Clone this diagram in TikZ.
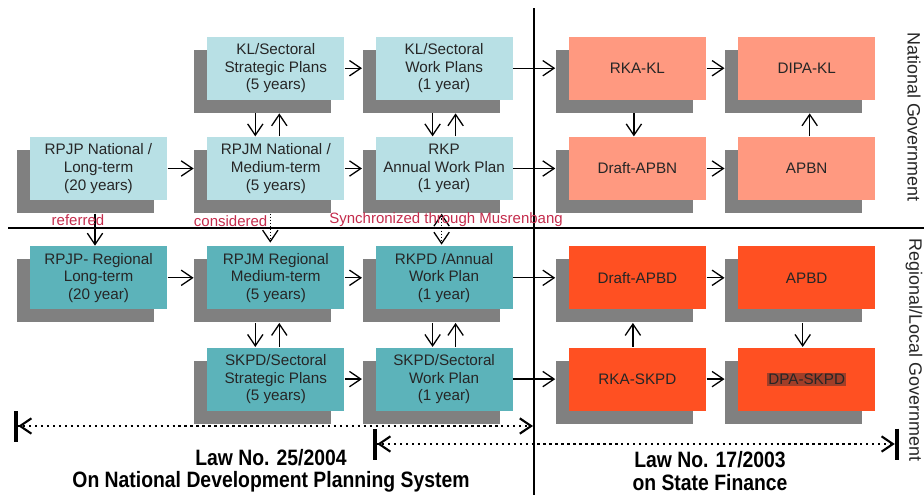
\documentclass[tikz,border=0pt]{standalone}
\usepackage{fontspec}
\setmainfont{Liberation Sans}
\newfontfamily\lawfont[FakeStretch=0.87]{Liberation Sans}
\usepackage{tikz}
\usetikzlibrary{positioning,shadows,calc,arrows.meta}
\definecolor{natplancol}{RGB}{184,224,229}
\definecolor{regplancol}{RGB}{92,179,186}
\definecolor{natfincol}{RGB}{255,153,128}
\definecolor{regfincol}{RGB}{255,80,34}
\definecolor{boxshadow}{RGB}{128,128,128}
\definecolor{notered}{RGB}{196,44,76}
\definecolor{dpamark}{RGB}{160,62,40}

\begin{document}
\begin{tikzpicture}[x=0.03cm, y=-0.03cm, line width=1.1pt,
                    >={Straight Barb[length=0.34cm,width=0.46cm]}]
  \tikzstyle{plan}=[minimum width=4.11cm, minimum height=1.89cm, inner sep=0pt,
     align=center, text=black!85, font=\fontsize{13}{15}\selectfont,
     drop shadow={shadow xshift=-0.39cm, shadow yshift=-0.39cm, fill=boxshadow, opacity=1}]
  \tikzstyle{natplan}=[plan, fill=natplancol]
  \tikzstyle{regplan}=[plan, fill=regplancol]
  \tikzstyle{natfin}=[plan, fill=natfincol]
  \tikzstyle{regfin}=[plan, fill=regfincol]
  \tikzstyle{toshadow}=[shorten >=0.39cm]
  \tikzstyle{note}=[text=notered, inner sep=0pt, font=\fontsize{12.8}{14}\selectfont]
  \tikzstyle{span}=[line width=1.8pt, dash pattern=on 2pt off 3.1pt]
  \tikzstyle{law}=[align=center, font=\lawfont\bfseries\fontsize{19}{19}\selectfont]
  \tikzstyle{side}=[rotate=-90, text=black!85, font=\fontsize{15.3}{17}\selectfont]

  \useasboundingbox (0,0) rectangle (924,495);

  % dividers
  \draw (8,228) -- (924,228);
  \draw (534,8) -- (534,495);

  % national level
  \node[natplan] (rpjpn) at (98.5,168.5) {RPJP National /\\Long-term\\(20 years)};
  \node[natplan] (rpjmn) [right=1.17cm of rpjpn] {RPJM National /\\Medium-term\\(5 years)};
  \node[natplan] (rkp)   [right=0.9cm of rpjmn] {RKP\\Annual Work Plan\\(1 year)};
  \node[natfin]  (dapbn) [right=1.65cm of rkp] {Draft-APBN};
  \node[natfin]  (apbn)  [right=0.93cm of dapbn] {APBN};
  \node[natplan] (klsp)   [above=1.08cm of rpjmn] {KL/Sectoral\\Strategic Plans\\(5 years)};
  \node[natplan] (klwp)   [above=1.08cm of rkp] {KL/Sectoral\\Work Plans\\(1 year)};
  \node[natfin]  (rkakl)  [above=1.08cm of dapbn] {RKA-KL};
  \node[natfin]  (dipakl) [above=1.08cm of apbn] {DIPA-KL};

  % regional level
  \node[regplan] (rpjpr) [below=1.35cm of rpjpn] {RPJP- Regional\\Long-term\\(20 year)};
  \node[regplan] (rpjmr) [below=1.35cm of rpjmn] {RPJM Regional\\Medium-term\\(5 years)};
  \node[regplan] (rkpd)  [below=1.35cm of rkp] {RKPD /Annual\\Work Plan\\(1 year)};
  \node[regfin]  (dapbd) [below=1.35cm of dapbn] {Draft-APBD};
  \node[regfin]  (apbd)  [below=1.35cm of apbn] {APBD};
  \node[regplan] (skpdsp)  [below=1.11cm of rpjmr] {SKPD/Sectoral\\Strategic Plans\\(5 years)};
  \node[regplan] (skpdwp)  [below=1.11cm of rkpd] {SKPD/Sectoral\\Work Plan\\(1 year)};
  \node[regfin]  (rkaskpd) [below=1.11cm of dapbd] {RKA-SKPD};
  \node[regfin]  (dpaskpd) [below=1.11cm of apbd] {\setlength{\fboxsep}{1pt}\colorbox{dpamark}{DPA-SKPD}};

  % flows
  \path[->] (klsp)  edge[toshadow] (klwp)
            (klwp)  edge[toshadow] (rkakl)
            (rkakl) edge[toshadow] (dipakl)
            (rpjpn) edge[toshadow] (rpjmn)
            (rpjmn) edge[toshadow] (rkp)
            (rkp)   edge[toshadow] (dapbn)
            (dapbn) edge[toshadow] (apbn)
            (rpjpr) edge[toshadow] (rpjmr)
            (rpjmr) edge[toshadow] (rkpd)
            (rkpd)  edge[toshadow] (dapbd)
            (dapbd) edge[toshadow] (apbd)
            (skpdsp)  edge[toshadow] (skpdwp)
            (skpdwp)  edge[toshadow] (rkaskpd)
            (rkaskpd) edge[toshadow] (dpaskpd);

  \draw[->] ($(klsp.south)+(-20.5,13)$) -- ($(rpjmn.north)+(-20.5,0)$);
  \draw[->] ($(rpjmn.north)+(3.5,0)$) -- ($(klsp.south)+(3.5,13)$);
  \draw[->] ($(klwp.south)+(-11.5,13)$) -- ($(rkp.north)+(-11.5,0)$);
  \draw[->] ($(rkp.north)+(11.5,0)$) -- ($(klwp.south)+(11.5,13)$);
  \draw[->] ($(rkakl.south)+(-3.5,13)$) -- ($(dapbn.north)+(-3.5,0)$);
  \draw[->] ($(apbn.north)+(3,0)$) -- ($(dipakl.south)+(3,13)$);

  \draw[->] ($(rpjmr.south)+(-20.5,13)$) -- ($(skpdsp.north)+(-20.5,0)$);
  \draw[->] ($(skpdsp.north)+(3.5,0)$) -- ($(rpjmr.south)+(3.5,13)$);
  \draw[->] ($(rkpd.south)+(-11.5,13)$) -- ($(skpdwp.north)+(-11.5,0)$);
  \draw[->] ($(skpdwp.north)+(11.5,0)$) -- ($(rkpd.south)+(11.5,13)$);
  \draw[->] ($(rkaskpd.north)+(-4.5,0)$) -- ($(dapbd.south)+(-4.5,13)$);
  \draw[->] ($(apbd.south)+(-4,13)$) -- ($(dpaskpd.north)+(-4,0)$);

  % national to regional
  \draw[->] ($(rpjpn.south)+(-3.5,13)$) -- ($(rpjpr.north)+(-3.5,0)$)
     node[note, pos=0.19, xshift=-0.51cm] {referred};
  \draw[->, dash pattern=on 1pt off 1.6pt] ($(rpjmn.south)+(-5.5,13)$) -- ($(rpjmr.north)+(-5.5,-3)$)
     node[note, pos=0.27, xshift=-1.19cm] {considered};
  \draw[<->, dash pattern=on 1pt off 1.6pt] ($(rkp.south)+(-2.5,13)$) -- ($(rkpd.north)+(-2.5,-1)$)
     node[note, pos=0.2, xshift=0.135cm] {Synchronized through Musrenbang};

  % laws
  \coordinate (npsL) at (14,426);
  \coordinate (npsR) at (533,426);
  \coordinate (sfL) at (373,444);
  \coordinate (sfR) at (899,444);
  \draw[span, {Bar[width=0.93cm,line width=3.6pt]Straight Barb[length=0.34cm,width=0.46cm]}-{Straight Barb[length=0.34cm,width=0.46cm]}] (npsL) -- (npsR);
  \draw[span, {Bar[width=0.93cm,line width=3.6pt]Straight Barb[length=0.34cm,width=0.46cm]}-{Straight Barb[length=0.34cm,width=0.46cm]Bar[width=0.93cm,line width=3.6pt]}] (sfL) -- (sfR);

  \node[law] (lawnps) at (271,471) {Law No. 25/2004\\On National Development Planning System};
  \node[law] (lawsf)  at (710,471) {Law No. 17/2003\\on State Finance};

  \node[side] (natgov) at (914,117) {National Government};
  \node[side] (reggov) at (914,350) {Regional/Local Government};
\end{tikzpicture}
\end{document}
